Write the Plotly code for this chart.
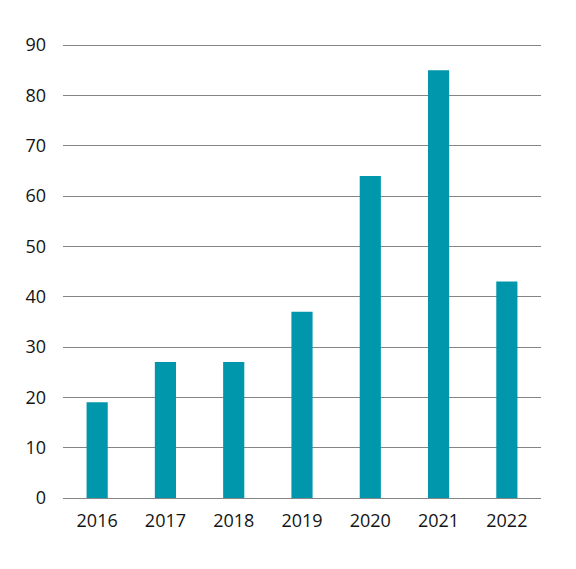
import plotly.graph_objects as go

# data
years = ["2016", "2017", "2018", "2019", "2020", "2021", "2022"]
values = [19, 27, 27, 37, 64, 85, 43]
y_ticks = [0, 10, 20, 30, 40, 50, 60, 70, 80, 90]

fig = go.Figure(
    go.Bar(
        x=years,
        y=values,
        marker=dict(color="#0097AC", line=dict(width=0)),
    )
)

# page has an 8px body margin, so the figure is a little smaller than the window
fig.update_layout(
    width=568,
    height=561,
    paper_bgcolor="white",
    plot_bgcolor="white",
    margin=dict(l=55, r=35, t=32, b=71),
    bargap=0.69,
    showlegend=False,
    font=dict(family="Open Sans, DejaVu Sans, sans-serif", size=18, color="#141414"),
)

fig.update_xaxes(
    showgrid=False,
    showline=False,
    ticks="",
    ticklabelstandoff=10,
    automargin=False,
)

fig.update_yaxes(
    range=[0, 91],
    tickvals=y_ticks,
    showgrid=True,
    gridcolor="#858585",
    gridwidth=1.4,
    zeroline=True,
    zerolinecolor="#858585",
    zerolinewidth=1.4,
    ticks="",
    ticklabelstandoff=16,
    automargin=False,
)

fig.write_html("out.html")
